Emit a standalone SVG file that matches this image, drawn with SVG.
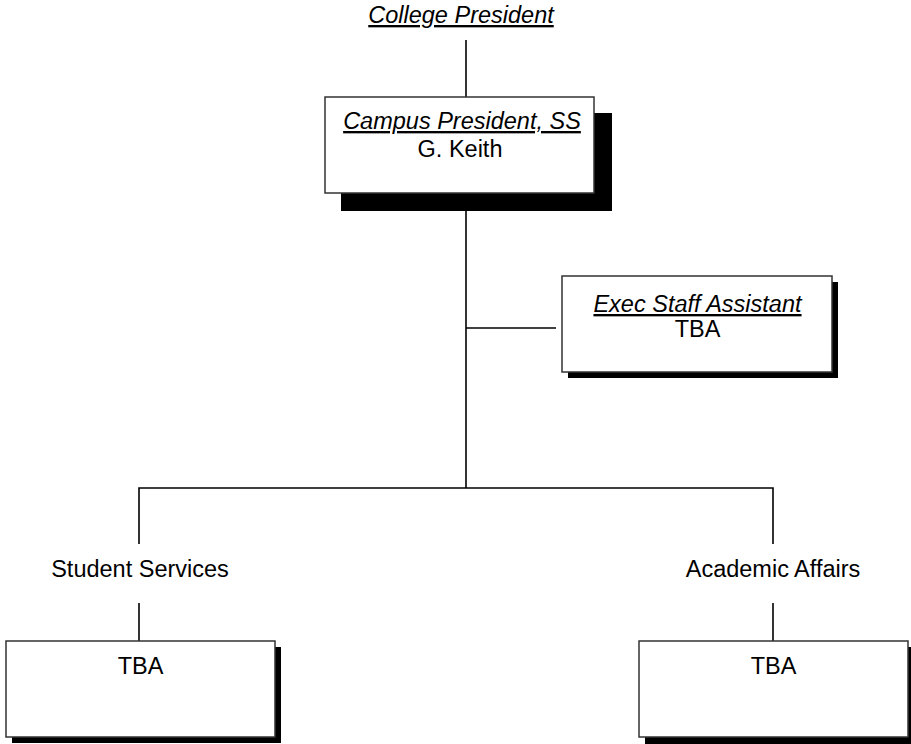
<svg xmlns="http://www.w3.org/2000/svg" width="911" height="744" viewBox="0 0 911 744">
<style>
text{font-family:"Liberation Sans",Arial,sans-serif;font-size:23.5px;fill:#000;text-anchor:middle}
.t{font-style:italic;text-decoration:underline}
.box{fill:#fff;stroke:#333;stroke-width:1.5}
.sh{fill:#000}
.ln{stroke:#000;stroke-width:1.6;fill:none}
</style>
<rect width="911" height="744" fill="#fff"/>
<g id="connectors">
<line class="ln" x1="466" y1="40" x2="466" y2="97"/>
<line class="ln" x1="466" y1="211" x2="466" y2="488"/>
<line class="ln" x1="466" y1="328" x2="556" y2="328"/>
<polyline class="ln" points="139,544 139,488 773,488 773,544"/>
<line class="ln" x1="139" y1="603" x2="139" y2="641"/>
<line class="ln" x1="773" y1="603" x2="773" y2="641"/>
</g>
<g id="college-president">
<text class="t" x="461" y="23">College President</text>
</g>
<g id="campus-president">
<rect class="sh" x="341" y="113" width="271" height="98"/>
<rect class="box" x="325" y="97" width="269" height="96"/>
<text class="t" x="462" y="129">Campus President, SS</text>
<text x="460" y="157">G. Keith</text>
</g>
<g id="exec-staff-assistant">
<rect class="sh" x="568" y="282" width="270" height="96"/>
<rect class="box" x="562" y="276" width="270" height="96"/>
<text class="t" x="697.5" y="312">Exec Staff Assistant</text>
<text x="697.5" y="337">TBA</text>
</g>
<g id="student-services">
<text x="140" y="577">Student Services</text>
</g>
<g id="student-services-tba">
<rect class="sh" x="12" y="647" width="269" height="96"/>
<rect class="box" x="6" y="641" width="269" height="96"/>
<text x="140.5" y="674">TBA</text>
</g>
<g id="academic-affairs">
<text x="773" y="577">Academic Affairs</text>
</g>
<g id="academic-affairs-tba">
<rect class="sh" x="645" y="647" width="269" height="97"/>
<rect class="box" x="639" y="641" width="269" height="96"/>
<text x="773.5" y="674">TBA</text>
</g>
</svg>
